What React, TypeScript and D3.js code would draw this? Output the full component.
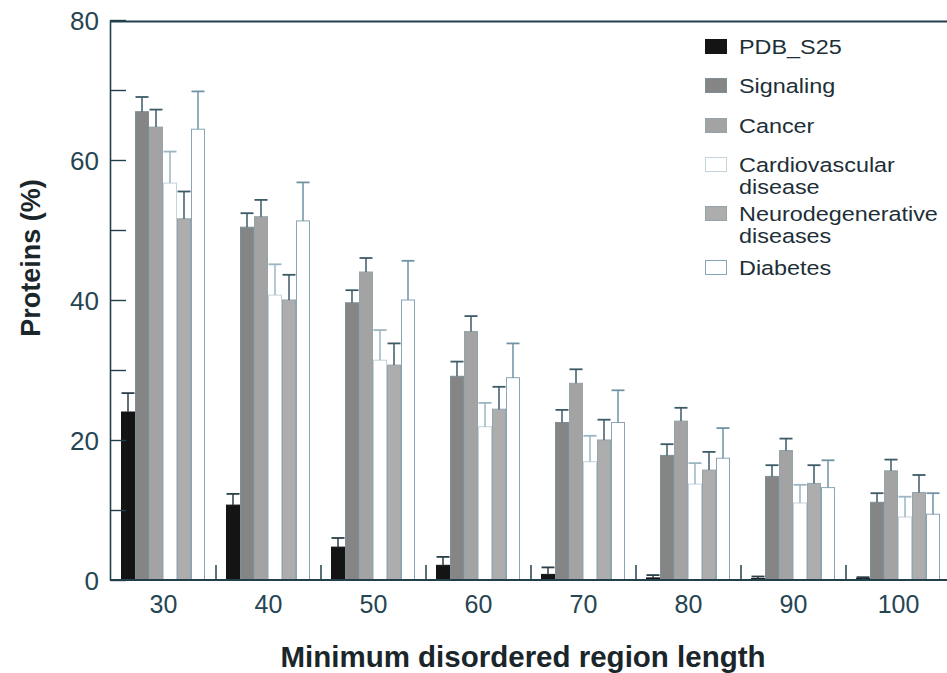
import * as React from 'react'
import {select, scaleLinear, scaleBand, axisLeft, range} from 'd3'

const {useRef, useEffect} = React

// minimum disordered region length (x categories)
const categories = ['30', '40', '50', '60', '70', '80', '90', '100']
const seriesNames = ['PDB_S25', 'Signaling', 'Cancer', 'Cardiovascular disease', 'Neurodegenerative diseases', 'Diabetes']
const yTicks = [0, 10, 20, 30, 40, 50, 60, 70, 80]

// bar heights (%) and top of the error bars
const pdbValues = [24.0, 10.7, 4.7, 2.1, 0.8, 0.3, 0.2, 0.2]
const pdbUpper = [26.7, 12.3, 6.0, 3.3, 1.8, 0.7, 0.5, 0.4]
const signalingValues = [66.9, 50.4, 39.6, 29.1, 22.5, 17.8, 14.8, 11.1]
const signalingUpper = [69.0, 52.4, 41.4, 31.2, 24.3, 19.4, 16.4, 12.4]
const cancerValues = [64.7, 51.9, 44.0, 35.5, 28.1, 22.7, 18.5, 15.6]
const cancerUpper = [67.2, 54.3, 46.0, 37.7, 30.1, 24.6, 20.2, 17.2]
const cardioValues = [56.7, 40.7, 31.4, 21.9, 16.9, 13.7, 11.0, 9.0]
const cardioUpper = [61.2, 45.1, 35.7, 25.3, 20.6, 16.7, 13.6, 11.9]
const neuroValues = [51.6, 40.0, 30.7, 24.4, 20.0, 15.7, 13.8, 12.5]
const neuroUpper = [55.5, 43.6, 33.8, 27.6, 22.9, 18.3, 16.4, 15.0]
const diabetesValues = [64.4, 51.3, 40.0, 28.9, 22.5, 17.4, 13.2, 9.4]
const diabetesUpper = [69.8, 56.8, 45.6, 33.8, 27.1, 21.7, 17.1, 12.4]

const allValues = [pdbValues, signalingValues, cancerValues, cardioValues, neuroValues, diabetesValues]
const allUpper = [pdbUpper, signalingUpper, cancerUpper, cardioUpper, neuroUpper, diabetesUpper]

const fills = ['#141414', '#858585', '#a3a3a3', '#ffffff', '#adadad', '#ffffff']
const strokes = ['#141414', '#7d8f97', '#93a4ab', '#c3d3da', '#93a4ab', '#86a6b5']
const errColors = ['#2b3f48', '#3d5a67', '#3d5a67', '#9bb6c2', '#3d5a67', '#6f93a3']
const legendLines = [['PDB_S25'], ['Signaling'], ['Cancer'], ['Cardiovascular', 'disease'], ['Neurodegenerative', 'diseases'], ['Diabetes']]
const legendY = [47, 86, 126, 165, 214, 268]

const FONT = '"Liberation Sans", Arial, sans-serif'
const AXIS = '#22404c'
const TEXT = '#264552'

export default function App() {
  const ref = useRef(null)

  useEffect(() => {
    document.body.style.margin = '0'
    const svg = select(ref.current)
    svg.selectAll('*').remove()

    const x = scaleBand().domain(categories).range([111, 951]).paddingInner(0)
    const inner = scaleBand().domain(seriesNames).range([10, 94]).paddingInner(0)
    const y = scaleLinear().domain([0, 80]).range([580, 20])

    // bars
    const groups = svg.append('g').selectAll('g')
      .data(categories)
      .join('g')
      .attr('transform', d => `translate(${x(d)},0)`)

    seriesNames.forEach((s, si) => {
      groups.append('rect')
        .attr('x', inner(s) + 0.5)
        .attr('y', (d, i) => y(allValues[si][i]))
        .attr('width', inner.bandwidth() - 1)
        .attr('height', (d, i) => y(0) - y(allValues[si][i]))
        .attr('fill', fills[si])
        .attr('stroke', strokes[si])
        .attr('stroke-width', 1)

      const cx = inner(s) + inner.bandwidth() / 2
      groups.append('line')
        .attr('x1', cx).attr('x2', cx)
        .attr('y1', (d, i) => y(allValues[si][i]))
        .attr('y2', (d, i) => y(allUpper[si][i]))
        .attr('stroke', errColors[si]).attr('stroke-width', 1.5)
      groups.append('line')
        .attr('x1', cx - 6.5).attr('x2', cx + 6.5)
        .attr('y1', (d, i) => y(allUpper[si][i]))
        .attr('y2', (d, i) => y(allUpper[si][i]))
        .attr('stroke', errColors[si]).attr('stroke-width', 1.8)
    })

    // y axis, ticks pointing inward
    const yAxis = axisLeft(y).tickValues(yTicks).tickSizeInner(-16).tickSizeOuter(0).tickPadding(11)
      .tickFormat(d => (d % 20 === 0 ? String(d) : ''))
    const ga = svg.append('g').attr('transform', 'translate(110,0)').call(yAxis)
    ga.select('.domain').attr('stroke', AXIS).attr('stroke-width', 1.6)
    ga.selectAll('.tick line').attr('stroke', AXIS).attr('stroke-width', 1.4)
    ga.selectAll('.tick text')
      .attr('font-family', FONT).attr('font-size', 26).attr('fill', TEXT).attr('dy', '0.38em')

    // x axis line, top frame line and group separators
    svg.append('line').attr('x1', 110).attr('x2', 947).attr('y1', y(0)).attr('y2', y(0))
      .attr('stroke', AXIS).attr('stroke-width', 2)
    svg.append('line').attr('x1', 110).attr('x2', 947).attr('y1', y(80) + 1.5).attr('y2', y(80) + 1.5)
      .attr('stroke', AXIS).attr('stroke-width', 2.2)
    svg.append('g').selectAll('line')
      .data(categories.slice(1))
      .join('line')
      .attr('x1', d => x(d)).attr('x2', d => x(d))
      .attr('y1', y(0)).attr('y2', y(0) - 15)
      .attr('stroke', AXIS).attr('stroke-width', 1.5)
    svg.append('g').selectAll('text')
      .data(categories)
      .join('text')
      .attr('x', d => x(d) + x.bandwidth() / 2)
      .attr('y', 613)
      .attr('text-anchor', 'middle')
      .attr('font-family', FONT).attr('font-size', 25).attr('fill', TEXT)
      .text(d => d)

    // axis titles
    svg.append('text')
      .attr('x', 523).attr('y', 667)
      .attr('text-anchor', 'middle')
      .attr('font-family', FONT).attr('font-size', 29.5).attr('font-weight', 'bold').attr('fill', '#1b262b')
      .text('Minimum disordered region length')
    svg.append('text')
      .attr('transform', 'translate(40,258) rotate(-90)')
      .attr('text-anchor', 'middle')
      .attr('font-family', FONT).attr('font-size', 27).attr('font-weight', 'bold').attr('fill', '#1b262b')
      .text('Proteins (%)')

    // legend (text is a little stretched horizontally in the original)
    const lg = svg.append('g')
    range(seriesNames.length).forEach(i => {
      lg.append('rect')
        .attr('x', 705.5).attr('y', legendY[i] - 7.5)
        .attr('width', 21).attr('height', 14)
        .attr('fill', fills[i]).attr('stroke', strokes[i]).attr('stroke-width', 1)
      const t = lg.append('text')
        .attr('transform', `translate(739,${legendY[i] + 7}) scale(1.2,1)`)
        .attr('font-family', FONT).attr('font-size', 19.5).attr('fill', '#1e2f38')
      legendLines[i].forEach((line, li) => {
        t.append('tspan').attr('x', 0).attr('dy', li === 0 ? 0 : 22).text(line)
      })
    })
  }, [])

  return <svg ref={ref} width={947} height={673} style={{display: 'block', background: '#fff'}} />
}
